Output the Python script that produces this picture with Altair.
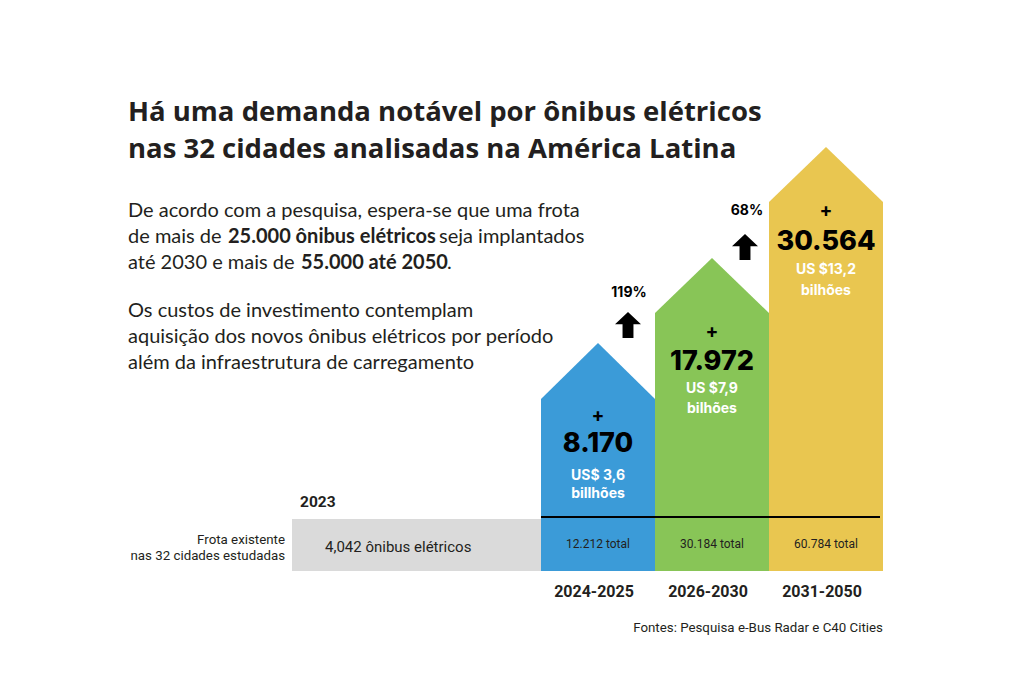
import altair as alt
import pandas as pd

# ---------------- data ----------------
periods = ["2024-2025", "2026-2030", "2031-2050"]
new_buses = ["8.170", "17.972", "30.564"]
investment = ["US$ 3,6", "US $7,9", "US $13,2"]
investment_unit = ["billhões", "bilhões", "bilhões"]
fleet_totals = ["12.212 total", "30.184 total", "60.784 total"]
column_height = [172, 258, 369]      # illustrative column heights (shoulder)
roof_height = [56, 55, 55]           # illustrative roof heights
growth = ["119%", "68%"]
base_year = "2023"
base_fleet = "4,042 ônibus elétricos"
base_label = ["Frota existente", "nas 32 cidades estudadas"]
title_lines = ["Há uma demanda notável por ônibus elétricos",
               "nas 32 cidades analisadas na América Latina"]
source = "Fontes: Pesquisa e-Bus Radar e C40 Cities"

# ---------------- styling / layout ----------------
colors = ["#3b9bd8", "#88c557", "#e9c650"]
GRAY = "#dadada"
INK = "#231f20"
W, H = 1008, 667
UNIT = 114.0          # px per column
X0 = 533.0            # view px of first column
Y0 = 563.0            # view px of baseline


def dx(px):
    return (px - 8 - X0) / UNIT


def dy(py):
    return Y0 - (py - 8)


xs = alt.Scale(domain=[-X0 / UNIT, (W - X0) / UNIT], nice=False, zero=False)
ys = alt.Scale(domain=[-(H - Y0), Y0], nice=False, zero=False)
X = lambda f="x": alt.X(f"{f}:Q", scale=xs, axis=None)
Y = lambda f="y": alt.Y(f"{f}:Q", scale=ys, axis=None, stack=None)


def tl(rows, **kw):
    df = pd.DataFrame(rows, columns=["x", "y", "t"])
    return alt.Chart(df).mark_text(**kw).encode(x=X(), y=Y(), text="t:N")


# houses (pentagon columns)
house_rows = []
for i, p in enumerate(periods):
    h, r = column_height[i], roof_height[i]
    house_rows += [dict(period=p, x=i, y=h, y0=0),
                   dict(period=p, x=i + 0.5, y=h + r, y0=0),
                   dict(period=p, x=i + 1, y=h, y0=0)]
houses = alt.Chart(pd.DataFrame(house_rows)).mark_area(interpolate="linear", opacity=1).encode(
    x=X(), y=Y(), y2="y0:Q",
    color=alt.Color("period:N", scale=alt.Scale(domain=periods, range=colors), legend=None),
)

BASE_H = 52
base = alt.Chart(pd.DataFrame([dict(x=dx(292), x2=0, y=0, y2=BASE_H)])).mark_rect(color=GRAY).encode(
    x=X(), x2="x2:Q", y=Y(), y2="y2:Q")

rule = alt.Chart(pd.DataFrame([dict(x=0, x2=dx(880), y=BASE_H + 2)])).mark_rule(
    color="black", strokeWidth=2).encode(x=X(), x2="x2:Q", y=Y())

mids = [i + 0.5 for i in range(len(periods))]
plus_y = [416, 332, 211]
num_y = [444, 362, 242]
inv_y = [476, 389, 270]
unit_y = [494, 409, 291]

layers = [base, houses, rule]
layers.append(tl([(m, dy(y), "+") for m, y in zip(mids, plus_y)],
                 font="Inter", fontSize=19, fontWeight="bold", color="black", baseline="middle"))
layers.append(tl([(m, dy(y), t) for m, y, t in zip(mids, num_y, new_buses)],
                 font="Inter", fontSize=27, fontWeight=800, color="black", baseline="middle"))
layers.append(tl([(m, dy(y), t) for m, y, t in zip(mids, inv_y, investment)],
                 font="Inter", fontSize=14, fontWeight="bold", color="white", baseline="middle"))
layers.append(tl([(m, dy(y), t) for m, y, t in zip(mids, unit_y, investment_unit)],
                 font="Inter", fontSize=14, fontWeight="bold", color="white", baseline="middle"))
layers.append(tl([(m, dy(544), t) for m, t in zip(mids, fleet_totals)],
                 font="Roboto", fontSize=12, color=INK, baseline="middle"))
layers.append(tl([(m, dy(592), t) for m, t in zip(mids, periods)],
                 font="Roboto", fontSize=16, fontWeight="bold", color=INK, baseline="middle", dx=-4))

# base (2023) annotations
layers.append(tl([(dx(325), dy(547), base_fleet)], font="Roboto", fontSize=15, color=INK,
                 align="left", baseline="middle"))
layers.append(tl([(dx(300), dy(502), base_year)], font="Roboto", fontSize=15.5, fontWeight="bold",
                 color=INK, align="left", baseline="middle"))
layers.append(tl([(dx(285), dy(540), base_label[0]), (dx(285), dy(556), base_label[1])],
                 font="Roboto", fontSize=13.3, color=INK, align="right", baseline="middle"))

# growth arrows
arrow_pos = [(628, 325), (745, 247)]
label_pos = [(629, 293), (747, 211)]
arrow_path = "M0,-1L1,-0.05L0.42,-0.05L0.42,1L-0.42,1L-0.42,-0.05L-1,-0.05Z"
arrows = alt.Chart(pd.DataFrame([dict(x=dx(a), y=dy(b), g=g) for (a, b), g in zip(arrow_pos, growth)])).mark_point(
    shape=arrow_path, filled=True, color="black", size=676, opacity=1, strokeWidth=0).encode(x=X(), y=Y())
layers.append(arrows)
layers.append(tl([(dx(a), dy(b), g) for (a, b), g in zip(label_pos, growth)],
                 font="Inter", fontSize=14, fontWeight="bold", color="black", baseline="middle"))

# title and text
layers.append(tl([(dx(128), dy(113), title_lines[0]), (dx(128), dy(150), title_lines[1])],
                 font="Open Sans", fontSize=27.5, fontWeight="bold", color=INK, align="left"))
para_regular = [
    (128, 211, "De acordo com a pesquisa, espera-se que uma frota"),
    (128, 237, "de mais de"),
    (439, 237, "seja implantados"),
    (128, 263, "até 2030 e mais de"),
    (447, 263, "."),
    (128, 311, "Os custos de investimento contemplam"),
    (128, 337, "aquisição dos novos ônibus elétricos por período"),
    (128, 363, "além da infraestrutura de carregamento"),
]
para_bold = [
    (228, 237, "25.000 ônibus elétricos"),
    (301, 263, "55.000 até 2050"),
]
layers.append(tl([(dx(a), dy(b), t) for a, b, t in para_regular],
                 font="Lato", fontSize=20, color=INK, align="left"))
layers.append(tl([(dx(a), dy(b), t) for a, b, t in para_bold],
                 font="Lato", fontSize=20, fontWeight="bold", color=INK, align="left"))
layers.append(tl([(dx(883), dy(628), source)], font="Roboto", fontSize=13.3, color=INK,
                 align="right", baseline="middle"))

chart = alt.layer(*layers).properties(
    width=W, height=H, padding=0, autosize=alt.AutoSizeParams(type="none"),
    background="white",
).configure_view(stroke=None)

chart.save("out.html", embed_options={"renderer": "svg", "actions": False})
